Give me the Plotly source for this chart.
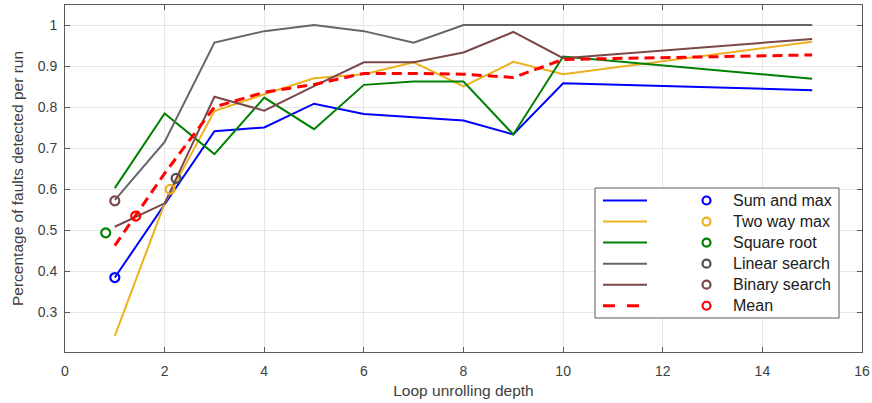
import plotly.graph_objects as go

# ---- data ----
depth = [1, 2, 3, 4, 5, 6, 7, 8, 9, 10, 15]
sum_and_max = [0.384, 0.562, 0.741, 0.750, 0.808, 0.783, 0.775, 0.767, 0.733, 0.858, 0.841]
two_way_max = [0.242, 0.565, 0.790, 0.831, 0.870, 0.880, 0.909, 0.850, 0.910, 0.880, 0.959]
square_root = [0.602, 0.784, 0.685, 0.823, 0.746, 0.854, 0.862, 0.862, 0.733, 0.923, 0.869]
linear_search = [0.573, 0.715, 0.957, 0.985, 1.000, 0.985, 0.957, 1.000, 1.000, 1.000, 1.000]
binary_search = [0.508, 0.565, 0.825, 0.791, 0.851, 0.909, 0.909, 0.933, 0.983, 0.919, 0.966]
mean_values = [0.462, 0.638, 0.800, 0.836, 0.855, 0.882, 0.882, 0.880, 0.872, 0.916, 0.927]

series_names = ["Sum and max", "Two way max", "Square root", "Linear search", "Binary search", "Mean"]
series_values = [sum_and_max, two_way_max, square_root, linear_search, binary_search, mean_values]

# single circle markers (as drawn in the reference)
marker_x = [1.0, 2.11, 0.817, 2.23, 1.0, 1.42]
marker_y = [0.384, 0.599, 0.493, 0.626, 0.571, 0.534]

x_ticks = [0, 2, 4, 6, 8, 10, 12, 14, 16]
y_ticks = [0.3, 0.4, 0.5, 0.6, 0.7, 0.8, 0.9, 1.0]
y_tick_text = ["0.3", "0.4", "0.5", "0.6", "0.7", "0.8", "0.9", "1"]

# ---- styles ----
line_colors = ["#0000FF", "#EDB120", "#008000", "#666666", "#7A4848", "#FF0000"]
marker_colors = ["#0000FF", "#EDB120", "#008000", "#505050", "#7A4848", "#FF0000"]
line_widths = [2, 2, 2, 2, 2, 3]
line_dash = ["solid", "solid", "solid", "solid", "solid", "10px,6px"]

FONT = "Liberation Sans, Arial, sans-serif"
W, H = 872, 403
L, R, T, B = 65, 862, 5, 352

fig = go.Figure()
for name, vals, c, w, d in zip(series_names, series_values, line_colors, line_widths, line_dash):
    fig.add_trace(go.Scatter(x=depth, y=vals, mode="lines", name=name,
                             line=dict(color=c, width=w, dash=d), showlegend=False))
for name, mx, my, c in zip(series_names, marker_x, marker_y, marker_colors):
    fig.add_trace(go.Scatter(x=[mx], y=[my], mode="markers", name=name, showlegend=False,
                             marker=dict(symbol="circle-open", size=9, color=c,
                                         line=dict(width=2.2, color=c))))

axis_common = dict(showline=True, linecolor="#5a5a5a", linewidth=1, mirror="ticks",
                   ticks="inside", ticklen=5, tickcolor="#5a5a5a", tickwidth=1,
                   showgrid=True, gridcolor="#e6e6e6", gridwidth=1, zeroline=False,
                   automargin=False,
                   tickfont=dict(family=FONT, size=14, color="#404040"))

fig.update_xaxes(range=[0, 16], tickvals=x_ticks, ticklabelstandoff=6,
                 title=dict(text="Loop unrolling depth", standoff=7,
                            font=dict(family=FONT, size=15.5, color="#404040")),
                 **axis_common)
fig.update_yaxes(range=[1 - (B - 25) / 410, 1 + 20 / 410], tickvals=y_ticks, ticktext=y_tick_text,
                 ticklabelstandoff=4,
                 title=dict(text="Percentage of faults detected per run", standoff=10,
                            font=dict(family=FONT, size=15.5, color="#404040")),
                 **axis_common)

# ---- custom legend (MATLAB style: line sample, then marker, then text) ----
def px2x(px):
    return (px - L) / (R - L)

def py2y(py):
    return (B - py) / (B - T)

shapes = [dict(type="rect", xref="paper", yref="paper",
               x0=px2x(595), x1=px2x(839), y0=py2y(318), y1=py2y(188),
               fillcolor="white", line=dict(color="#5a5a5a", width=1), layer="above")]
annotations = []
row0, row_step = 200.5, 21.05
for i, (name, c, mc, w, d) in enumerate(zip(series_names, line_colors, marker_colors, line_widths, line_dash)):
    yy = py2y(row0 + i * row_step)
    shapes.append(dict(type="line", xref="paper", yref="paper",
                       x0=px2x(603), x1=px2x(647), y0=yy, y1=yy,
                       line=dict(color=c, width=w, dash=("12px,12px" if d != "solid" else "solid")),
                       layer="above"))
    shapes.append(dict(type="circle", xref="paper", yref="paper",
                       xsizemode="pixel", ysizemode="pixel",
                       xanchor=px2x(706.5), yanchor=yy,
                       x0=-4, x1=4, y0=-4, y1=4,
                       line=dict(color=mc, width=2.2), fillcolor="rgba(0,0,0,0)", layer="above"))
    annotations.append(dict(xref="paper", yref="paper", x=px2x(731), y=yy,
                            xanchor="left", yanchor="middle", showarrow=False,
                            text=name, font=dict(family=FONT, size=16, color="#202020")))

fig.update_layout(width=W, height=H, margin=dict(l=L, r=W - R, t=T, b=H - B),
                  paper_bgcolor="white", plot_bgcolor="white",
                  shapes=shapes, annotations=annotations, showlegend=False)

fig.write_html("out.html", config={"displayModeBar": False},
               post_script="document.body.style.margin='0';document.body.style.overflow='hidden';")
